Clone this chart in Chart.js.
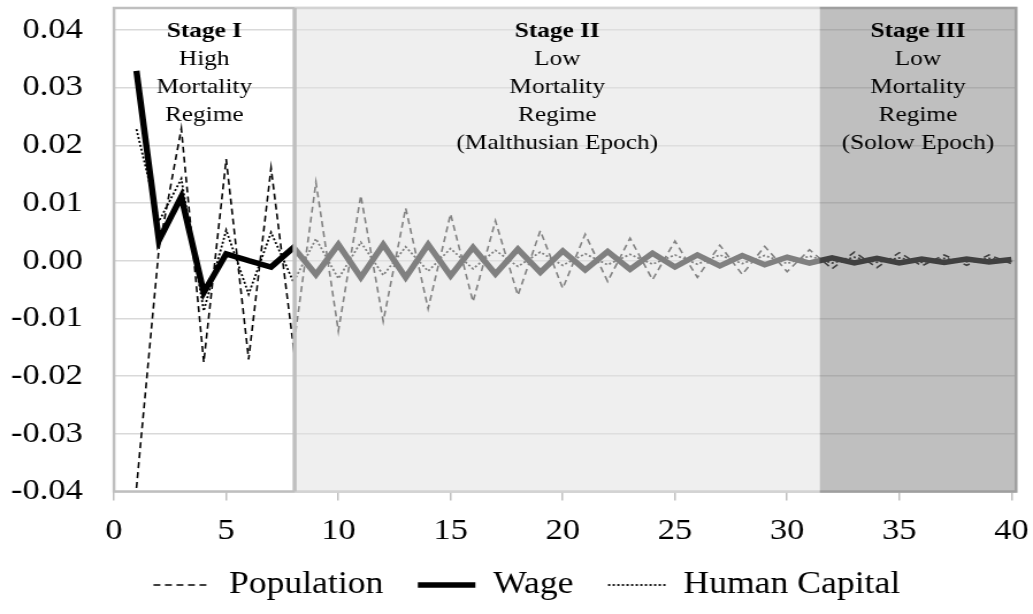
<!DOCTYPE html>
<html><head><meta charset="utf-8">
<script src="https://cdn.jsdelivr.net/npm/chart.js@4.4.1/dist/chart.umd.min.js"></script>
<style>
html,body{margin:0;padding:0;background:#fff;overflow:hidden;}
#wrap{width:898px;height:614px;transform:scale(1.15033,1);transform-origin:0 0;}
canvas{display:block;}
</style></head><body>
<div id="wrap"><canvas id="c" width="898" height="614"></canvas></div>
<script>
const periods = [1,2,3,4,5,6,7,8,9,10,11,12,13,14,15,16,17,18,19,20,21,22,23,24,25,26,27,28,29,30,31,32,33,34,35,36,37,38,39,40];
const population = [-0.0394,0.0020,0.0229,-0.0176,0.0176,-0.0171,0.0161,-0.0150,0.0136,-0.0122,0.0113,-0.0105,0.0091,-0.0083,0.0081,-0.0071,0.0069,-0.0060,0.0052,-0.0048,0.0046,-0.0036,0.0039,-0.0033,0.0034,-0.0029,0.0027,-0.0024,0.0025,-0.0019,0.0019,-0.0014,0.0015,-0.0012,0.0014,-0.0009,0.0010,-0.0008,0.0010,-0.0005];
const wage = [0.0329,0.0035,0.0111,-0.0055,0.0012,0.0000,-0.0011,0.0023,-0.0024,0.0028,-0.0029,0.0028,-0.0029,0.0028,-0.0026,0.0023,-0.0023,0.0020,-0.0020,0.0017,-0.0016,0.0016,-0.0015,0.0013,-0.0011,0.0010,-0.0009,0.0009,-0.0007,0.0006,-0.0004,0.0005,-0.0004,0.0004,-0.0004,0.0003,-0.0003,0.0003,-0.0002,0.0002];
const humanCapital = [0.0228,0.0068,0.0142,-0.0087,0.0053,-0.0058,0.0049,-0.0037,0.0038,-0.0031,0.0032,-0.0025,0.0024,-0.0018,0.0021,-0.0014,0.0018,-0.0010,0.0015,-0.0008,0.0012,-0.0007,0.0011,-0.0006,0.0010,-0.0006,0.0010,-0.0005,0.0009,-0.0005,0.0008,-0.0004,0.0006,-0.0003,0.0005,-0.0003,0.0004,-0.0002,0.0004,-0.0001];
const xTicks = [0,5,10,15,20,25,30,35,40];
const yTicks = [-0.04,-0.03,-0.02,-0.01,0,0.01,0.02,0.03,0.04];
const stageBounds = [0, 8.05, 31.46, 40.2];
const stageTitles = ['Stage I','Stage II','Stage III'];
const stageLines = [
  ['High','Mortality','Regime'],
  ['Low','Mortality','Regime','(Malthusian Epoch)'],
  ['Low','Mortality','Regime','(Solow Epoch)']
];

const FONT = "'Liberation Serif', 'Times New Roman', serif";

const stagePlugin = {
  id: 'stages',
  afterLayout(chart) {
    const lg = chart.legend;
    if (lg) { lg.left += 16.4; lg.right += 16.4; }
  },
  beforeDatasetsDraw(chart) {
    const {ctx, chartArea: a} = chart;
    ctx.save();
    ctx.strokeStyle = '#bfbfbf';
    ctx.lineWidth = 2.5;
    ctx.strokeRect(a.left, a.top, a.right - a.left, a.bottom - a.top);
    ctx.restore();
  },
  afterDatasetsDraw(chart) {
    const {ctx, chartArea: a, scales: {x}} = chart;
    const b = stageBounds.map(v => x.getPixelForValue(v));
    ctx.save();
    ctx.fillStyle = 'rgba(226,226,226,0.565)';
    ctx.fillRect(b[1], a.top - 1.25, b[2] - b[1], a.bottom - a.top + 2.5);
    ctx.fillStyle = 'rgba(128,128,128,0.5)';
    ctx.fillRect(b[2], a.top - 1.25, b[3] - b[2] + 1.25, a.bottom - a.top + 2.5);
    ctx.strokeStyle = '#bfbfbf';
    ctx.lineWidth = 3.5;
    ctx.beginPath();
    ctx.moveTo(b[1], a.top);
    ctx.lineTo(b[1], a.bottom);
    ctx.stroke();
    ctx.fillStyle = '#000';
    ctx.textAlign = 'center';
    ctx.textBaseline = 'middle';
    for (let i = 0; i < 3; i++) {
      const cx = (b[i] + b[i + 1]) / 2;
      const lines = [stageTitles[i]].concat(stageLines[i]);
      lines.forEach((t, j) => {
        ctx.font = (j === 0 ? 'bold ' : '') + '22px ' + FONT;
        ctx.fillText(t, cx, a.top + 23.5 + j * 27.9);
      });
    }
    ctx.restore();
  }
};

const mk = (arr) => periods.map((p, i) => ({x: p, y: arr[i]}));

new Chart(document.getElementById('c'), {
  type: 'line',
  data: {
    datasets: [
      {label: 'Population', data: mk(population), borderColor: '#000', backgroundColor: '#000', borderWidth: 1.6, borderDash: [6, 4], pointRadius: 0, tension: 0, fill: false},
      {label: 'Wage', data: mk(wage), borderColor: '#000', backgroundColor: '#000', borderWidth: 5.5, pointRadius: 0, tension: 0, fill: false},
      {label: 'Human Capital', data: mk(humanCapital), borderColor: '#000', backgroundColor: '#000', borderWidth: 1.8, borderDash: [2, 2], pointRadius: 0, tension: 0, fill: false}
    ]
  },
  options: {
    responsive: false,
    animation: false,
    devicePixelRatio: 1,
    layout: {padding: {left: 0, right: 14.8, top: 8, bottom: 3.5}},
    scales: {
      x: {
        type: 'linear', min: 0, max: 40.2,
        afterBuildTicks: s => { s.ticks = xTicks.map(v => ({value: v})); },
        afterFit: s => { s.height = 48; s.paddingLeft = 0; s.paddingRight = 0; },
        border: {display: false},
        grid: {drawOnChartArea: false, drawTicks: true, tickLength: 9, color: '#bfbfbf', lineWidth: 1.5},
        ticks: {color: '#000', padding: 13, maxRotation: 0, font: {family: FONT, size: 30}, callback: v => String(v)}
      },
      y: {
        type: 'linear', min: -0.04, max: 0.0438,
        afterBuildTicks: s => { s.ticks = yTicks.map(v => ({value: v})); },
        afterFit: s => { s.width = 99.1; s.paddingTop = 0; s.paddingBottom = 0; },
        border: {display: false},
        grid: {drawTicks: false, color: '#d9d9d9', lineWidth: 1.5},
        ticks: {color: '#000', padding: 27, font: {family: FONT, size: 30, lineHeight: 0.5}, callback: v => Number(v).toFixed(2)}
      }
    },
    plugins: {
      legend: {
        position: 'bottom',
        labels: {
          usePointStyle: true, pointStyle: 'line', pointStyleWidth: 50, padding: 30, color: '#000',
          font: {family: FONT, size: 31},
          generateLabels: chart => Chart.defaults.plugins.legend.labels.generateLabels(chart).map((l, i) => {
            const ds = chart.data.datasets[i];
            return Object.assign({}, l, {lineDash: ds.borderDash || [], lineWidth: ds.borderWidth, strokeStyle: ds.borderColor, pointStyle: 'line'});
          })
        }
      },
      tooltip: {enabled: false}
    }
  },
  plugins: [stagePlugin]
});
</script>
</body></html>
